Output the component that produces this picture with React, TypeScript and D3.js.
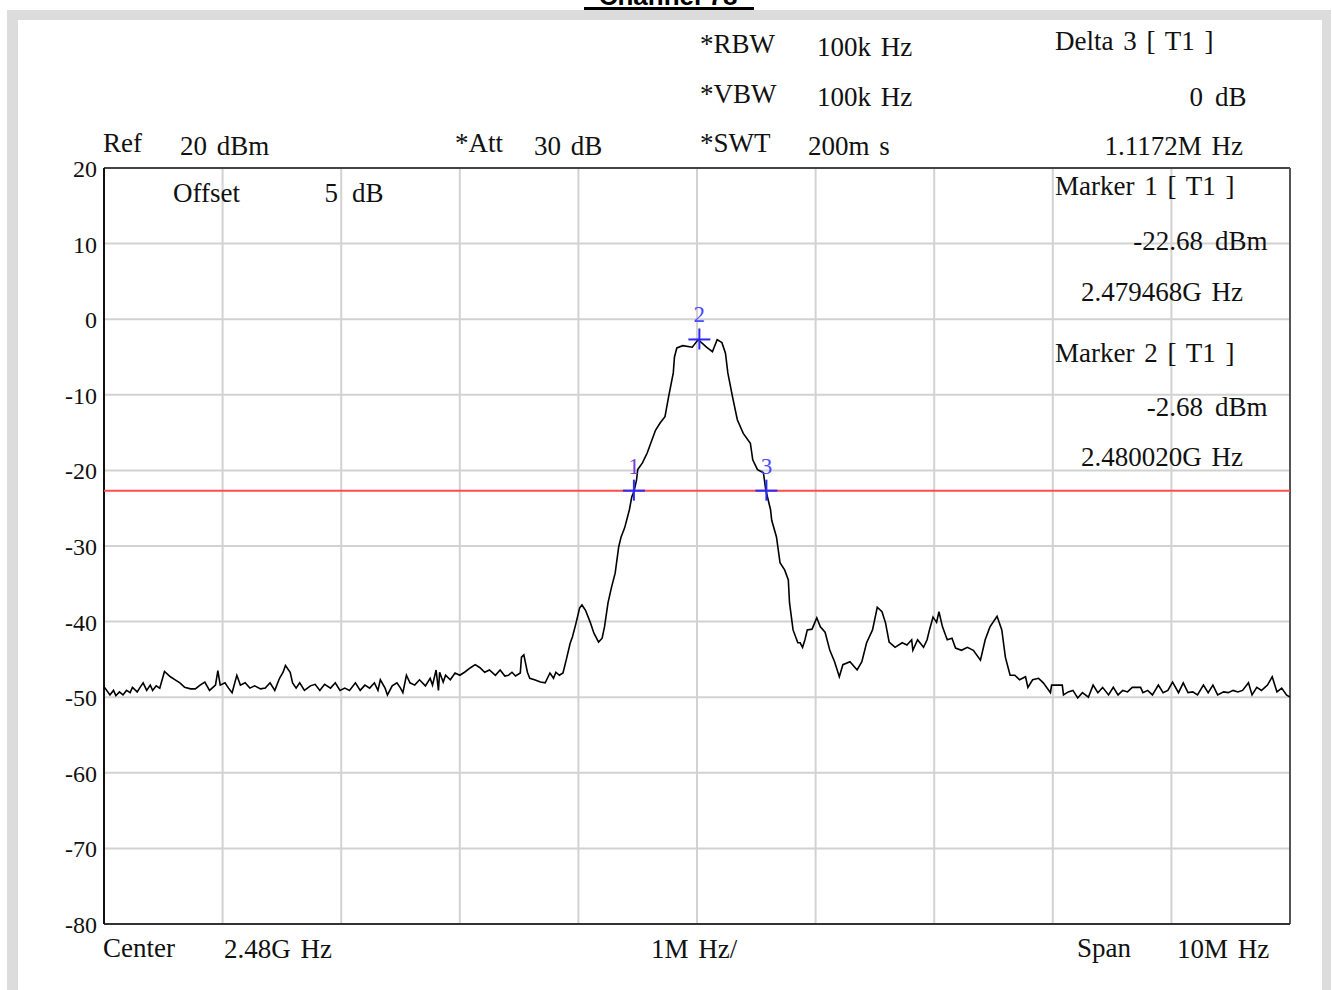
import React from "react";
import * as d3 from "d3";

// ---- data ----
const startFreqGHz = 2.475;
const spanMHz = 10;
const refLevel = 20;
const bottomLevel = -80;
const yTicks = [20, 10, 0, -10, -20, -30, -40, -50, -60, -70, -80];
const xDivisions = [0, 1, 2, 3, 4, 5, 6, 7, 8, 9, 10];

// trace: frequency offset from start (MHz) and level (dBm)
const traceMHz = [
  0.00, 0.05, 0.08, 0.10, 0.13, 0.16, 0.19, 0.22, 0.24, 0.28, 0.30, 0.33, 0.36, 0.39, 0.41, 0.44, 0.47,
  0.51, 0.56, 0.60, 0.64, 0.68, 0.73, 0.77, 0.81, 0.85, 0.89, 0.94, 0.96, 0.98, 1.02, 1.05, 1.08, 1.12,
  1.15, 1.19, 1.23, 1.27, 1.32, 1.36, 1.40, 1.44, 1.48, 1.51, 1.53, 1.57, 1.59, 1.62, 1.65, 1.69, 1.74,
  1.78, 1.82, 1.86, 1.91, 1.95, 1.99, 2.03, 2.07, 2.12, 2.16, 2.20, 2.24, 2.28, 2.31, 2.33, 2.37, 2.39,
  2.43, 2.47, 2.50, 2.52, 2.55, 2.58, 2.62, 2.66, 2.71, 2.75, 2.77, 2.80, 2.82, 2.83, 2.86, 2.88, 2.92,
  2.96, 3.00, 3.04, 3.09, 3.13, 3.17, 3.21, 3.25, 3.30, 3.34, 3.38, 3.41, 3.44, 3.47, 3.51, 3.52, 3.54,
  3.57, 3.59, 3.63, 3.68, 3.72, 3.76, 3.79, 3.81, 3.84, 3.87, 3.90, 3.93, 3.95, 3.98, 4.01, 4.03, 4.06,
  4.10, 4.13, 4.17, 4.20, 4.22, 4.25, 4.28, 4.31, 4.34, 4.36, 4.39, 4.43, 4.45, 4.47, 4.49, 4.50, 4.54,
  4.58, 4.65, 4.69, 4.73, 4.76, 4.80, 4.81, 4.83, 4.88, 4.96, 5.01, 5.08, 5.13, 5.17, 5.21, 5.24, 5.26,
  5.30, 5.34, 5.39, 5.45, 5.47, 5.51, 5.56, 5.58, 5.62, 5.63, 5.67, 5.70, 5.74, 5.77, 5.78, 5.81, 5.85,
  5.87, 5.89, 5.91, 5.93, 5.97, 6.01, 6.04, 6.08, 6.12, 6.16, 6.20, 6.23, 6.29, 6.35, 6.39, 6.43, 6.48,
  6.52, 6.56, 6.59, 6.62, 6.67, 6.73, 6.77, 6.81, 6.82, 6.86, 6.91, 6.94, 6.96, 6.99, 7.02, 7.04, 7.07,
  7.11, 7.15, 7.18, 7.23, 7.28, 7.33, 7.39, 7.43, 7.47, 7.53, 7.57, 7.60, 7.64, 7.68, 7.72, 7.77, 7.79,
  7.83, 7.88, 7.92, 7.98, 7.99, 8.08, 8.09, 8.13, 8.17, 8.21, 8.25, 8.30, 8.34, 8.38, 8.42, 8.47, 8.51,
  8.55, 8.59, 8.63, 8.67, 8.74, 8.76, 8.80, 8.84, 8.89, 8.93, 8.97, 9.01, 9.06, 9.10, 9.14, 9.18, 9.22,
  9.27, 9.31, 9.35, 9.39, 9.44, 9.48, 9.52, 9.56, 9.60, 9.65, 9.68, 9.72, 9.76, 9.81, 9.85, 9.89, 9.93,
  9.97, 10.00,
];
const traceDbm = [
  -48.6, -49.7, -49.1, -49.8, -49.3, -49.7, -49.1, -49.4, -48.7, -49.3, -48.8, -48.1, -49.1, -48.4, -49.1, -48.5, -48.8,
  -46.6, -47.3, -47.7, -48.1, -48.7, -48.9, -48.9, -48.4, -48.0, -49.1, -48.4, -46.5, -48.4, -48.1, -48.8, -49.4, -47.1,
  -48.4, -48.1, -48.8, -48.5, -48.9, -48.8, -48.1, -49.1, -47.5, -46.7, -45.8, -46.7, -48.1, -48.8, -48.1, -49.1, -48.5,
  -48.3, -49.1, -48.3, -48.8, -48.1, -49.1, -48.8, -49.1, -48.1, -49.1, -48.4, -48.8, -48.1, -49.1, -47.7, -48.8, -49.7,
  -48.5, -48.1, -48.8, -49.4, -47.1, -48.1, -48.4, -47.7, -48.5, -47.5, -48.4, -46.4, -49.1, -46.7, -48.0, -47.1, -47.7,
  -46.8, -47.1, -46.7, -46.1, -45.7, -46.1, -46.7, -46.4, -47.1, -46.4, -47.2, -47.1, -46.7, -47.2, -46.8, -44.7, -44.4,
  -46.7, -47.5, -47.7, -48.0, -48.1, -46.8, -47.5, -46.7, -47.1, -46.8, -44.9, -42.9, -42.0, -40.2, -38.2, -37.8, -38.5,
  -40.1, -41.5, -42.7, -42.2, -40.7, -37.5, -35.4, -33.6, -30.1, -28.8, -27.6, -25.2, -23.5, -22.7, -21.3, -19.9, -19.0,
  -17.7, -14.7, -13.7, -12.9, -10.3, -7.1, -5.0, -3.8, -3.5, -3.7, -2.7, -3.7, -4.3, -2.7, -3.1, -4.5, -7.1,
  -10.3, -13.3, -15.1, -16.4, -18.6, -19.9, -20.3, -22.6, -25.2, -26.6, -28.8, -32.2, -33.2, -34.5, -37.5, -41.1, -42.8,
  -42.8, -43.4, -42.4, -41.1, -41.0, -39.5, -40.7, -41.4, -43.8, -45.3, -47.3, -45.7, -45.3, -46.4, -45.3, -42.8, -41.1,
  -38.1, -38.7, -40.2, -42.7, -43.4, -42.8, -43.1, -42.4, -43.8, -42.4, -43.4, -42.4, -41.1, -39.4, -40.1, -38.7, -40.7,
  -42.4, -42.2, -43.5, -43.8, -43.4, -43.8, -45.1, -42.4, -40.7, -39.3, -41.1, -44.7, -47.1, -47.1, -47.7, -47.3, -48.7,
  -47.7, -47.5, -48.1, -49.4, -48.4, -48.4, -49.7, -49.3, -49.1, -50.1, -49.4, -50.0, -48.4, -49.4, -48.7, -49.7, -48.7,
  -49.7, -49.1, -49.3, -48.7, -48.7, -49.4, -49.1, -49.7, -48.4, -49.4, -49.1, -48.0, -49.4, -48.1, -49.4, -49.3, -49.7,
  -48.4, -49.4, -48.4, -49.7, -49.3, -49.4, -49.1, -49.3, -49.1, -48.1, -49.7, -48.7, -49.1, -48.4, -47.3, -49.3, -48.8,
  -49.7, -50.0,
];

// markers
const markerIds = ["1", "2", "3"];
const markerFreqGHz = [2.479468, 2.48002, 2.4805852];
const markerDbm = [-22.68, -2.68, -22.68];
const displayLine = -22.68;

// ---- layout ----
const W = 1332;
const H = 990;
const plot = { left: 104, right: 1290, top: 168, bottom: 924 };
const serif = "'Liberation Serif', 'Times New Roman', serif";

export default function App() {
  const x = d3.scaleLinear().domain([0, spanMHz]).range([plot.left, plot.right]);
  const y = d3.scaleLinear().domain([bottomLevel, refLevel]).range([plot.bottom, plot.top]);
  const pts = traceMHz.map((f, i) => [f, traceDbm[i]] as [number, number]);
  const line = d3
    .line<[number, number]>()
    .x((d) => x(d[0]))
    .y((d) => y(d[1]));
  const markerX = (g: number) => x((g - startFreqGHz) * 1000);
  const markerColors = ["#7b3fd6", "#4a4aff", "#4a4aff"];

  const T = (props: any) => (
    <text fontFamily={serif} fontSize={27} fill="#111" wordSpacing={3} {...props} />
  );

  return (
    <div style={{ position: "absolute", left: 0, top: 0, width: W, height: H, background: "#fff" }}>
      <svg width={W} height={H} style={{ display: "block" }}>
        <rect x={0} y={0} width={W} height={H} fill="#fff" />
        {/* title (mostly cut off, as in the source) */}
        <text
          x={668}
          y={5}
          textAnchor="middle"
          fontFamily="'Liberation Sans', Arial, sans-serif"
          fontWeight="bold"
          fontSize={26}
          fill="#000"
        >
          Channel 78
        </text>
        <rect x={584} y={7} width={170} height={3} fill="#000" />
        {/* frame */}
        <rect x={7} y={10} width={1324} height={H - 10} fill="#dcdcdc" />
        <rect x={18} y={20} width={1304} height={H - 20} fill="#fff" />

        {/* grid */}
        {yTicks.map((t) => (
          <line key={"gy" + t} x1={plot.left} x2={plot.right} y1={y(t)} y2={y(t)} stroke="#d2d2d2" strokeWidth={2} />
        ))}
        {xDivisions.map((d) => (
          <line key={"gx" + d} x1={x(d)} x2={x(d)} y1={plot.top} y2={plot.bottom} stroke="#d2d2d2" strokeWidth={2} />
        ))}
        {/* border */}
        <line x1={plot.left} x2={plot.right} y1={plot.top} y2={plot.top} stroke="#444" strokeWidth={2} />
        <line x1={plot.right} x2={plot.right} y1={plot.top} y2={plot.bottom} stroke="#555" strokeWidth={2} />
        <line x1={plot.left} x2={plot.right} y1={plot.bottom} y2={plot.bottom} stroke="#333" strokeWidth={2} />
        <line x1={plot.left} x2={plot.left} y1={plot.top} y2={plot.bottom} stroke="#111" strokeWidth={2} />

        {/* y tick labels */}
        {yTicks.map((t) => (
          <text key={"yl" + t} x={97} y={y(t) + 9} textAnchor="end" fontFamily={serif} fontSize={24} fill="#111">
            {t}
          </text>
        ))}

        {/* display line */}
        <line x1={plot.left} x2={plot.right} y1={y(displayLine)} y2={y(displayLine)} stroke="#ff4d4d" strokeWidth={2} />

        {/* trace */}
        <path d={line(pts) || ""} fill="none" stroke="#000" strokeWidth={1.6} strokeLinejoin="miter" />

        {/* markers */}
        {markerIds.map((id, i) => {
          const mx = markerX(markerFreqGHz[i]);
          const my = y(markerDbm[i]);
          return (
            <g key={"m" + id}>
              <line x1={mx - 11} x2={mx + 11} y1={my} y2={my} stroke="#2a2aff" strokeWidth={2} />
              <line x1={mx} x2={mx} y1={my - 11} y2={my + 10} stroke="#2a2aff" strokeWidth={2} />
              <text x={mx} y={my - 17} textAnchor="middle" fontFamily={serif} fontSize={23} fill={markerColors[i]}>
                {id}
              </text>
            </g>
          );
        })}

        {/* header */}
        <T x={700} y={53}>*RBW</T>
        <T x={817} y={56}>100k Hz</T>
        <T x={700} y={103}>*VBW</T>
        <T x={817} y={106}>100k Hz</T>
        <T x={700} y={152}>*SWT</T>
        <T x={808} y={155}>200m s</T>
        <T x={103} y={152}>Ref</T>
        <T x={180} y={155}>20 dBm</T>
        <T x={455} y={152}>*Att</T>
        <T x={534} y={155}>30 dB</T>
        <T x={1055} y={50}>Delta 3 [ T1 ]</T>
        <T x={1203} y={106} textAnchor="end">0</T>
        <T x={1215} y={106}>dB</T>
        <T x={1243} y={155} textAnchor="end">1.1172M Hz</T>
        <T x={173} y={202}>Offset</T>
        <T x={338} y={202} textAnchor="end">5</T>
        <T x={352} y={202}>dB</T>

        {/* marker table */}
        <T x={1055} y={195}>Marker 1 [ T1 ]</T>
        <T x={1203} y={250} textAnchor="end">-22.68</T>
        <T x={1215} y={250}>dBm</T>
        <T x={1243} y={301} textAnchor="end">2.479468G Hz</T>
        <T x={1055} y={362}>Marker 2 [ T1 ]</T>
        <T x={1203} y={416} textAnchor="end">-2.68</T>
        <T x={1215} y={416}>dBm</T>
        <T x={1243} y={466} textAnchor="end">2.480020G Hz</T>

        {/* footer */}
        <T x={103} y={957}>Center</T>
        <T x={224} y={958}>2.48G Hz</T>
        <T x={651} y={958}>1M Hz/</T>
        <T x={1077} y={957}>Span</T>
        <T x={1177} y={958}>10M Hz</T>
      </svg>
    </div>
  );
}
